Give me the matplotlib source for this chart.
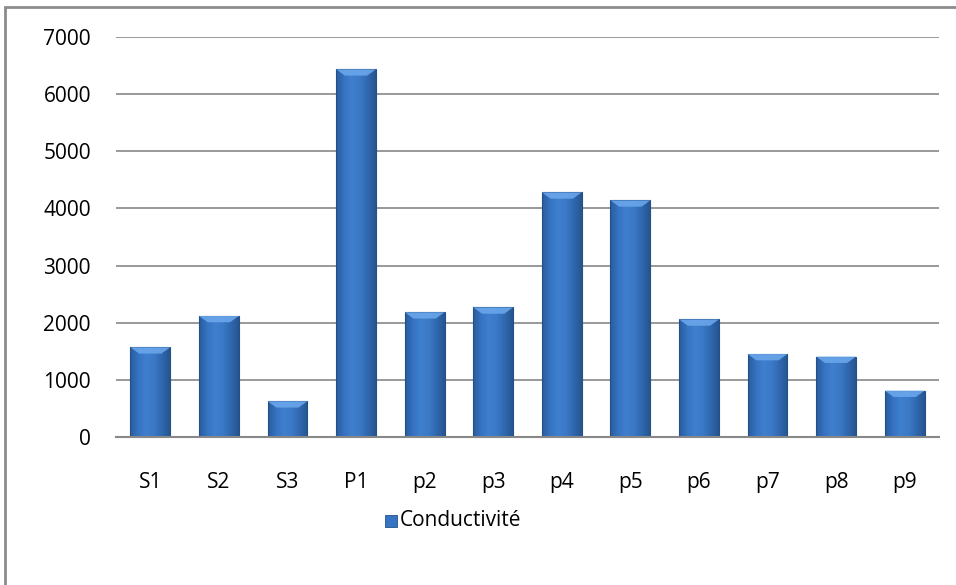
import numpy as np
import matplotlib.pyplot as plt
from matplotlib.patches import Rectangle, Polygon
from matplotlib.colors import LinearSegmentedColormap

plt.rcParams['font.family'] = ['Open Sans', 'DejaVu Sans']

# conductivity per sampling point
stations = ["S1", "S2", "S3", "P1", "p2", "p3", "p4", "p5", "p6", "p7", "p8", "p9"]
conductivite = [1573, 2120, 630, 6430, 2185, 2270, 4280, 4140, 2060, 1455, 1410, 815]
y_ticks = [0, 1000, 2000, 3000, 4000, 5000, 6000, 7000]

grid_color = "#888888"
bar_width = 0.58

# horizontal shading across each bar: darker edges, lighter middle
bar_cmap = LinearSegmentedColormap.from_list(
    "bevel", ["#2a5c9c", "#3673c2", "#3f7fcd", "#3b79c6", "#3068b0", "#27568f"]
)

fig = plt.figure(figsize=(9.56, 5.85), dpi=100)
ax = fig.add_axes([116 / 956, (585 - 437.3) / 585, (939 - 116) / 956, (437.3 - 36.7) / 585])

x = np.arange(len(stations))
ax.set_xlim(-0.5, len(stations) - 0.5)
ax.set_ylim(0, 7000)

grad = np.linspace(0, 1, 64).reshape(1, -1)
for xi, val in zip(x, conductivite):
    left, right = xi - bar_width / 2, xi + bar_width / 2
    im = ax.imshow(grad, cmap=bar_cmap, aspect="auto", extent=[left, right, 0, val],
                   zorder=3, interpolation="bicubic")
    clip = Rectangle((left, 0), bar_width, val, transform=ax.transData)
    im.set_clip_path(clip)
    ax.add_patch(Rectangle((left, 0), bar_width, val, fill=False,
                           edgecolor="#24508a", linewidth=0.8, zorder=4))
    # light bevel on top of the bar
    bevel = 110
    inset = bar_width * 0.22
    ax.add_patch(Polygon([(left, val), (right, val), (right - inset, val - bevel),
                          (left + inset, val - bevel)], closed=True,
                         facecolor="#6aa6ea", edgecolor="none", alpha=0.9, zorder=4))

ax.set_yticks(y_ticks)
ax.set_xticks(x)
ax.set_xticklabels(stations)
ax.yaxis.grid(True, color=grid_color, linewidth=1.2, zorder=1)
ax.set_axisbelow(True)
for s in ["top", "right", "left"]:
    ax.spines[s].set_visible(False)
ax.spines["bottom"].set_color(grid_color)
ax.spines["bottom"].set_linewidth(1.5)
ax.spines["bottom"].set_zorder(5)
ax.tick_params(axis="both", length=0, labelsize=15, colors="#000000")
ax.tick_params(axis="y", pad=18)
ax.tick_params(axis="x", pad=25)

# legend below the plot
lx, ly = 385 / 956, (585 - 527) / 585
sq = Rectangle((lx, ly), 12 / 956, 12 / 585, transform=fig.transFigure,
               facecolor="#3673c2", edgecolor="#24508a", linewidth=0.6)
fig.add_artist(sq)
fig.text(400 / 956, (585 - 521) / 585, "Conductivité", fontsize=15, va="center", ha="left")

# outer chart frame
frame = Rectangle((4.5 / 956, -0.05), 1.2, (585 - 6.5) / 585 + 0.05, transform=fig.transFigure,
                  fill=False, edgecolor="#8c8c8c", linewidth=2)
fig.add_artist(frame)

fig.savefig("out.png", dpi=100, facecolor="white")
